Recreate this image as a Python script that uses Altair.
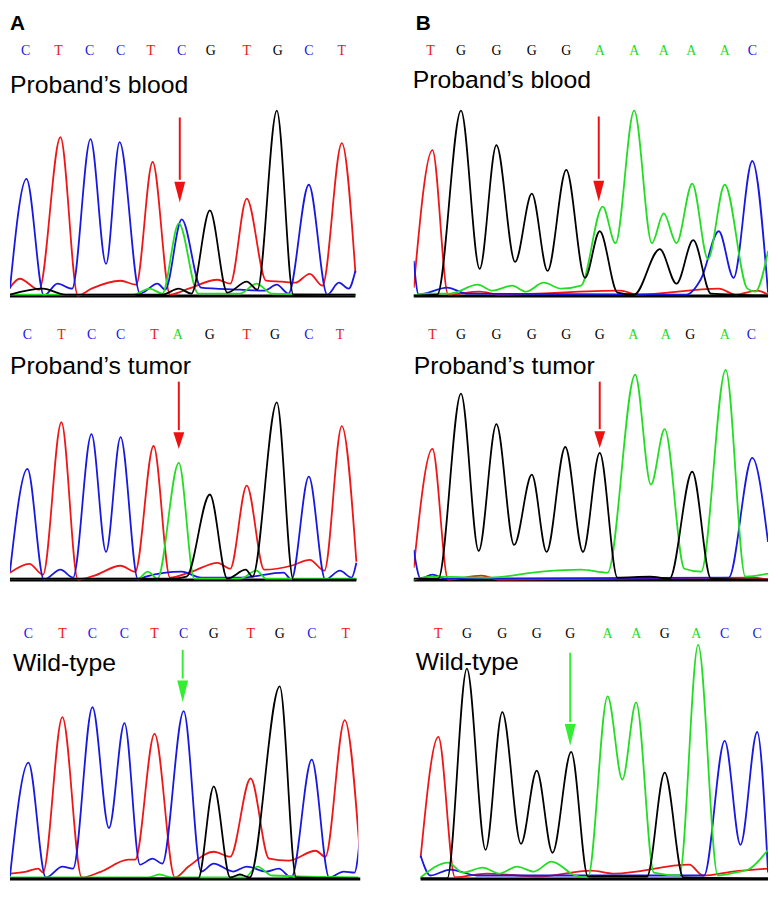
import altair as alt
import pandas as pd

# ---------------- data ----------------
# Column A (exon sequence CTCCT[C>A]GTGCT)
A1_bases = "CTCCTCGTGCT"
A1_base_x = [19, 53, 85, 117, 148, 180, 210, 247, 279, 311, 345]
A1_C = [(3, 7), (20, 118), (38, 0), (52, 12), (67, 7), (86, 158), (102, 32), (116, 155), (137, 2), (155, 12),
        (163, 6), (180, 77), (200, 8), (215, 7), (240, 6), (265, 5), (278, 11), (290, 2), (311, 112), (330, 1),
        (342, 13), (352, 7), (359, 25)]
A1_T = [(3, 8), (13, 17), (33, 6), (55, 160), (73, 0), (87, 7), (117, 15), (133, 11), (150, 135), (168, 1),
        (187, 7), (217, 16), (230, 12), (247, 98), (267, 15), (283, 14), (297, 13), (312, 22), (325, 10),
        (345, 154), (359, 23)]
A1_G = [(3, 1), (37, 7), (60, 1), (160, 1), (177, 7), (190, 2), (209, 86), (227, 3), (247, 14), (258, 6),
        (278, 187), (295, 1), (359, 1)]
A1_A = [(3, 1), (130, 1), (147, 7), (160, 2), (177, 73), (197, 2), (240, 2), (257, 12), (273, 2), (359, 1)]

A2_bases = "CTCCTAGTGCT"
A2_base_x = [21, 56, 87, 117, 152, 176, 209, 247, 276, 311, 343]
A2_C = [(3, 8), (21, 112), (38, 0), (55, 10), (68, 2), (87, 147), (102, 28), (117, 144), (135, 0), (143, 3),
        (180, 8), (200, 2), (240, 2), (285, 7), (293, 0), (311, 104), (328, 0), (343, 9), (355, 2), (360, 17)]
A2_T = [(3, 7), (23, 16), (37, 5), (56, 159), (73, 0), (90, 4), (117, 14), (132, 8), (151, 135), (168, 2),
        (190, 8), (217, 17), (230, 11), (247, 95), (265, 10), (293, 14), (312, 20), (327, 9), (345, 155), (360, 18)]
A2_G = [(3, 1), (170, 1), (185, 3), (209, 86), (227, 1), (246, 10), (253, 3), (278, 179), (295, 0), (360, 0)]
A2_A = [(3, 1), (135, 1), (145, 8), (155, 1), (177, 118), (193, 1), (240, 1), (257, 9), (267, 1), (360, 1)]

A3_bases = "CTCCTCGTGCT"
A3_base_x = [22, 57, 88, 121, 152, 182, 213, 251, 281, 314, 349]
A3_C = [(3, 2), (22, 117), (40, 1), (57, 12), (68, 10), (88, 173), (105, 51), (121, 157), (137, 14), (150, 20),
        (160, 15), (182, 169), (200, 7), (213, 15), (233, 7), (247, 12), (267, 7), (280, 10), (293, 1),
        (314, 120), (332, 1), (347, 7), (358, 6), (364, 44)]
A3_T = [(3, 5), (20, 7), (32, 10), (37, 6), (57, 163), (77, 1), (97, 7), (125, 19), (132, 19), (152, 146),
        (173, 1), (187, 12), (213, 27), (230, 22), (251, 101), (270, 20), (290, 18), (318, 28), (328, 22),
        (348, 160), (364, 20)]
A3_G = [(3, 0), (197, 0), (213, 93), (230, 1), (240, 4), (250, 1), (281, 194), (298, 1), (364, 0)]
A3_A = [(3, 1), (145, 1), (157, 4), (170, 1), (245, 1), (258, 12), (273, 3), (364, 1)]

# Column B (sequence TGGGG[+G]AAAAC)
B1_bases = "TGGGGAAAAAC"
B1_base_x = [40, 71, 107, 143, 178, 212, 247, 277, 305, 339, 367]
B1_T = [(23, 8), (42, 147), (58, 1), (90, 4), (110, 1), (233, 5), (250, 1), (333, 7), (350, 1), (372, 5), (383, 1)]
B1_G = [(23, 0), (47, 1), (71, 187), (90, 27), (107, 152), (126, 34), (143, 103), (159, 25), (178, 127),
        (197, 18), (212, 65), (230, 3), (247, 1), (273, 47), (290, 12), (307, 56), (325, 2), (383, 0)]
B1_A = [(23, 0), (33, 2), (60, 2), (88, 11), (103, 5), (123, 10), (137, 4), (155, 13), (173, 7), (193, 10),
        (215, 90), (228, 53), (247, 187), (265, 53), (277, 83), (290, 53), (306, 113), (322, 37), (339, 112),
        (362, 7), (370, 4), (383, 45)]
B1_C = [(23, 35), (28, 1), (57, 8), (77, 2), (300, 1), (315, 17), (333, 65), (348, 18), (367, 136), (383, 3)]

B2_bases = "TGGGGGAAGAC"
B2_base_x = [42, 71, 107, 143, 178, 212, 246, 279, 304, 339, 366]
B2_T = [(23, 12), (42, 132), (58, 0), (92, 4), (110, 0), (367, 2), (383, 0)]
B2_G = [(23, 1), (48, 1), (71, 188), (89, 29), (107, 157), (125, 35), (143, 106), (158, 28), (177, 134),
        (195, 28), (212, 128), (230, 2), (263, 3), (283, 1), (306, 109), (325, 1), (383, 0)]
B2_A = [(23, 0), (40, 3), (100, 2), (153, 8), (193, 10), (220, 7), (248, 207), (264, 96), (278, 152),
        (298, 11), (315, 8), (340, 212), (360, 3), (383, 6)]
B2_C = [(23, 30), (30, 1), (42, 5), (55, 1), (343, 2), (367, 123), (383, 38)]

B3_bases = "TGGGGAAGACC"
B3_base_x = [48, 77, 113, 148, 182, 220, 249, 278, 310, 339, 372]
B3_T = [(30, 21), (48, 143), (65, 1), (97, 5), (150, 2), (203, 8), (227, 5), (303, 14), (317, 3), (347, 7), (383, 10)]
B3_G = [(30, 0), (57, 0), (77, 212), (96, 29), (113, 168), (132, 35), (148, 109), (164, 26), (183, 128),
        (200, 2), (260, 2), (278, 107), (297, 1), (383, 0)]
B3_A = [(30, 1), (58, 16), (73, 6), (93, 11), (110, 5), (128, 12), (145, 7), (163, 17), (187, 3), (200, 1),
        (220, 184), (235, 100), (249, 178), (267, 6), (293, 3), (312, 236), (332, 3), (350, 6), (363, 9), (383, 29)]
B3_C = [(30, 23), (40, 3), (60, 9), (87, 3), (318, 3), (339, 139), (355, 34), (372, 148), (383, 6)]

LABELS = {"A1": "Proband\u2019s blood", "A2": "Proband\u2019s tumor", "A3": "Wild-type",
          "B1": "Proband\u2019s blood", "B2": "Proband\u2019s tumor", "B3": "Wild-type"}
PANEL_TAGS = {"A1": "A", "B1": "B"}

# ---------------- styling ----------------
BASES = ["C", "T", "G", "A"]
TRACE_COLORS = ["#1818e0", "#ee1616", "#000000", "#22dd22"]
LETTER_COLORS = ["#3a3ac8", "#e03a44", "#333333", "#44dd44"]
RED_ARROW = "#ee1111"
GREEN_ARROW = "#33ee33"

# annotation layout per panel: label (x, y), arrow (x, top, head top, tip, colour), tag (x, y)
LAYOUT = {
    "A1": dict(lab=(3, 205), arrow=(178, 180, 115, 94, RED_ARROW), tag=(3, 274)),
    "A2": dict(lab=(3, 208), arrow=(177, 200, 149, 132, RED_ARROW)),
    "A3": dict(lab=(6, 210), arrow=(181, 231, 200, 178, GREEN_ARROW)),
    "B1": dict(lab=(22, 210), arrow=(211, 181, 116, 95, RED_ARROW), tag=(25, 274)),
    "B2": dict(lab=(23, 208), arrow=(212, 200, 150, 133, RED_ARROW)),
    "B3": dict(lab=(25, 211), arrow=(182, 228, 156, 134, GREEN_ARROW)),
}

PANELS = {
    "A1": (A1_bases, A1_base_x, dict(C=A1_C, T=A1_T, G=A1_G, A=A1_A)),
    "A2": (A2_bases, A2_base_x, dict(C=A2_C, T=A2_T, G=A2_G, A=A2_A)),
    "A3": (A3_bases, A3_base_x, dict(C=A3_C, T=A3_T, G=A3_G, A=A3_A)),
    "B1": (B1_bases, B1_base_x, dict(C=B1_C, T=B1_T, G=B1_G, A=B1_A)),
    "B2": (B2_bases, B2_base_x, dict(C=B2_C, T=B2_T, G=B2_G, A=B2_A)),
    "B3": (B3_bases, B3_base_x, dict(C=B3_C, T=B3_T, G=B3_G, A=B3_A)),
}

XDOM = {"A": [3, 362], "B": [23, 383]}
WIDTH = {"A": 352, "B": 358}
YDOM = {"1": [-3, 285], "2": [-3, 262], "3": [-2, 277]}


def panel(key):
    col, row = key[0], key[1]
    bases, base_x, traces = PANELS[key]
    lay = LAYOUT[key]
    xs = alt.Scale(domain=XDOM[col], nice=False, zero=False)
    ys = alt.Scale(domain=YDOM[row], nice=False, zero=False)

    rows = []
    for b in ["T", "C", "A", "G"]:
        for i, (x, y) in enumerate(traces[b]):
            rows.append({"base": b, "x": x, "y": y, "i": i})
    tdf = pd.DataFrame(rows)
    x0 = min(p[0] for tr in traces.values() for p in tr)
    x1 = max(p[0] for tr in traces.values() for p in tr)

    base_line = alt.Chart(pd.DataFrame({"x": [x0], "x2": [x1]})).mark_rule(
        color="#000000", strokeWidth=3).encode(
        x=alt.X("x:Q", scale=xs, axis=None), x2="x2:Q", y=alt.YDatum(-0.5, scale=ys, axis=None))

    lines = alt.Chart(tdf).mark_line(interpolate="monotone", strokeWidth=1.8, clip=True).encode(
        x=alt.X("x:Q", scale=xs, axis=None),
        y=alt.Y("y:Q", scale=ys, axis=None),
        color=alt.Color("base:N", scale=alt.Scale(domain=BASES, range=TRACE_COLORS), legend=None),
        order="i:Q",
    )

    ldf = pd.DataFrame({"b": list(bases), "x": base_x})
    letters = alt.Chart(ldf).mark_text(font="Liberation Serif", fontSize=14, baseline="middle").encode(
        x=alt.X("x:Q", scale=xs, axis=None),
        y=alt.YDatum(247, scale=ys, axis=None),
        text="b:N",
        color=alt.Color("b:N", scale=alt.Scale(domain=BASES, range=LETTER_COLORS), legend=None),
    )

    lx, ly = lay["lab"]
    label = alt.Chart(pd.DataFrame({"t": [LABELS[key]]})).mark_text(
        font="Liberation Sans", fontSize=25, align="left", baseline="alphabetic", color="#000000").encode(
        x=alt.XDatum(lx, scale=xs, axis=None), y=alt.YDatum(ly, scale=ys, axis=None), text="t:N")

    ax, atop, ahead, atip, acol = lay["arrow"]
    shaft = alt.Chart(pd.DataFrame({"a": [0]})).mark_rule(color=acol, strokeWidth=2).encode(
        x=alt.XDatum(ax, scale=xs, axis=None),
        y=alt.YDatum(atop, scale=ys, axis=None),
        y2=alt.Y2Datum(ahead + 2))
    hl = ahead - atip
    hw = 11.0 / hl
    head = alt.Chart(pd.DataFrame({"a": [0]})).mark_point(
        filled=True, color=acol, opacity=1, strokeWidth=0,
        shape=f"M{-hw:.3f},-1L{hw:.3f},-1L0,1Z", size=hl * hl).encode(
        x=alt.XDatum(ax, scale=xs, axis=None),
        y=alt.YDatum((ahead + atip) / 2, scale=ys, axis=None))

    layers = [base_line, lines, letters, label, shaft, head]
    if key in PANEL_TAGS:
        tx, ty = lay["tag"]
        tag = alt.Chart(pd.DataFrame({"t": [PANEL_TAGS[key]]})).mark_text(
            font="Liberation Sans", fontSize=21, fontWeight="bold", align="left", baseline="middle",
            color="#000000").encode(
            x=alt.XDatum(tx, scale=xs, axis=None), y=alt.YDatum(ty, scale=ys, axis=None), text="t:N")
        layers.append(tag)

    d = YDOM[row]
    return alt.layer(*layers).properties(width=WIDTH[col], height=d[1] - d[0])


colA = alt.vconcat(panel("A1"), panel("A2"), panel("A3"), spacing=22, bounds="flush")
colB = alt.vconcat(panel("B1"), panel("B2"), panel("B3"), spacing=22, bounds="flush")

chart = alt.hconcat(colA, colB, spacing=50).properties(
    padding={"left": 0, "right": 0, "top": 0, "bottom": 0}, background="white").configure_view(
    stroke=None)

chart.save("out.html", embed_options={"renderer": "svg", "actions": False})
